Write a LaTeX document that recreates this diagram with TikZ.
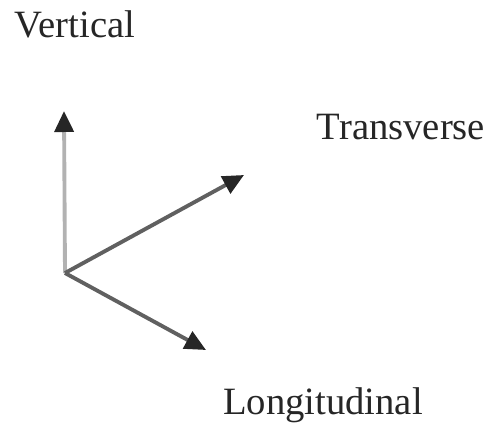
\documentclass[tikz,border=0pt]{standalone}
\usepackage{fontspec}
\setmainfont{Liberation Serif}
\usepackage{tikz}
\usetikzlibrary{arrows.meta,positioning,calc}

\begin{document}
\begin{tikzpicture}[
  every node/.style={font=\fontsize{22}{26}\selectfont,text=black!85},
  axis/.style={-{Triangle[length=4.2mm,width=3.8mm,color=black!85]},line width=2.2pt,draw=gray!75!black},
  lab/.style={inner sep=0pt}
]
  \useasboundingbox (0,0) rectangle (9.82,8.48);
  \coordinate (o) at (1.30,3.02);
  \coordinate (v) at (1.28,6.26);
  \coordinate (t) at (4.88,4.98);
  \coordinate (l) at (4.12,1.48);
  \node[lab] (vlab) at (1.50,8.00) {Vertical};
  \node[lab] (tlab) at (8.02,5.94) {Transverse};
  \node[lab] (llab) at (6.46,0.38) {Longitudinal};
  \draw[axis,draw=gray!60] (o) -- (v);
  \draw[axis] (o) -- (t);
  \draw[axis] (o) -- (l);
\end{tikzpicture}
\end{document}
